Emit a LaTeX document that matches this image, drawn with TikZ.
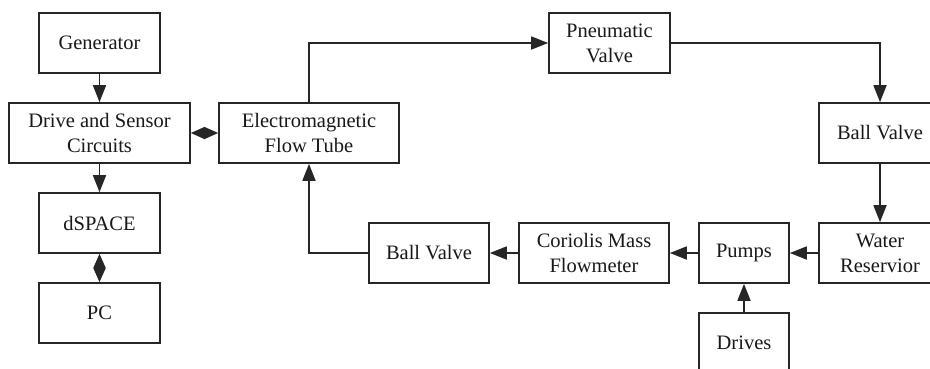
\documentclass[tikz,border=0pt]{standalone}
\usepackage{fontspec}
\setmainfont{Liberation Serif}
\usetikzlibrary{arrows.meta}
\begin{document}
\begin{tikzpicture}[x=1pt,y=-1pt,
  blk/.style={draw=black!85, line width=1.6pt, fill=white, minimum height=60pt, align=center, inner sep=2pt,
    font=\fontsize{20.5}{25}\selectfont, text=black!90},
  conn/.style={draw=black!85, line width=1.6pt, -{Triangle[length=17pt,width=13pt]}},
  bidir/.style={draw=black!85, line width=1.6pt, {Triangle[length=14pt,width=12pt]}-{Triangle[length=14pt,width=12pt]}}]
\useasboundingbox (0,0) rectangle (930,368);
\clip (0,0) rectangle (930,368);
\node[blk, minimum width=121pt] (gen) at (99.5,43) {Generator};
\node[blk, minimum width=181pt] (drive) at (99.5,133) {Drive and Sensor\\Circuits};
\node[blk, minimum width=121pt] (dsp) at (99.5,223) {dSPACE};
\node[blk, minimum width=121pt] (pc) at (99.5,313) {PC};
\node[blk, minimum width=180pt] (em) at (309,133) {Electromagnetic\\Flow Tube};
\node[blk, minimum width=121pt] (pneu) at (609.5,43) {Pneumatic\\Valve};
\node[blk, minimum width=122pt] (bvr) at (880,133) {Ball Valve};
\node[blk, minimum width=122pt] (water) at (880,253) {Water\\Reservior};
\node[blk, minimum width=90pt] (pumps) at (744,253) {Pumps};
\node[blk, minimum width=150pt] (cor) at (594,253) {Coriolis Mass\\Flowmeter};
\node[blk, minimum width=120pt] (bvl) at (429,253) {Ball Valve};
\node[blk, minimum width=90pt] (drives) at (744,343) {Drives};
\draw[conn] (gen) -- (drive);
\draw[bidir] (drive) -- (em);
\draw[conn] (drive) -- (dsp);
\draw[bidir] (dsp) -- (pc);
\draw[conn] (em.north) |- (pneu.west);
\draw[conn] (pneu.east) -| (bvr.north);
\draw[conn] (bvr) -- (water);
\draw[conn] (water) -- (pumps);
\draw[conn] (pumps) -- (cor);
\draw[conn] (cor) -- (bvl);
\draw[conn] (bvl.west) -| (em.south);
\draw[conn] (drives) -- (pumps);
\end{tikzpicture}
\end{document}
